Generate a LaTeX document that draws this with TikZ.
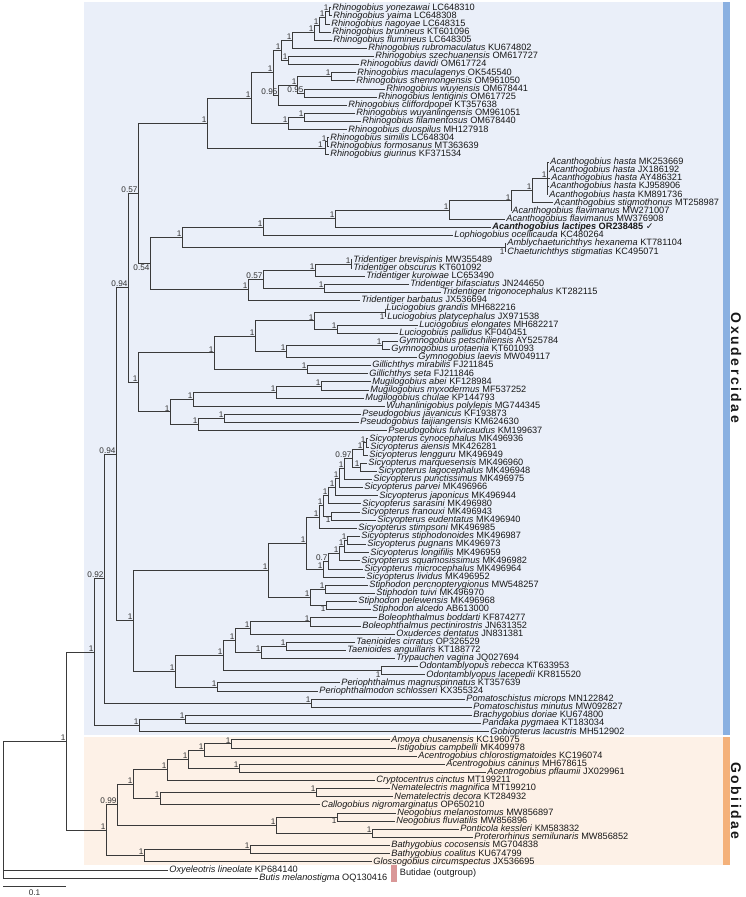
\documentclass[tikz,border=0pt]{standalone}
\usepackage{fontspec}
\setmainfont{Liberation Sans}
\newfontfamily\djv{DejaVu Sans}
\newfontfamily\famfont[LetterSpace=18]{Liberation Sans}
\usetikzlibrary{calc}
\definecolor{oxbg}{HTML}{EAEFF9}
\definecolor{gobbg}{HTML}{FDF1E7}
\definecolor{oxbar}{HTML}{8AB0E1}
\definecolor{gobbar}{HTML}{F4B17A}
\definecolor{butbar}{HTML}{D99797}
\definecolor{brc}{HTML}{3A3A3A}
\tikzset{
 br/.style={draw=brc,line width=0.7pt},
 tipn/.style={anchor=west,inner xsep=1.2pt,inner ysep=0pt,text height=6.6pt,text depth=1.8pt,font=\fontsize{9.2}{10}\selectfont,text=black!90},
 ppa/.style={anchor=south east,inner xsep=0.4pt,inner ysep=0.6pt,font=\fontsize{8.2}{9}\selectfont,text=black!80},
 ppb/.style={anchor=north east,inner xsep=0.4pt,inner ysep=0.6pt,font=\fontsize{8.2}{9}\selectfont,text=black!80},
 ppl/.style={ppa,xshift=-1.6pt},
 famlab/.style={rotate=-90,font=\famfont\fontsize{14}{16}\selectfont\bfseries,text=black!90},
}
\newcommand\tipx[5]{\node[tipn] (#1) at (#3,{7.6+(#2-1)*8.135}) {\textit{#4} #5};}
\newcommand\clade[6][ppa]{%
  \coordinate (tmp) at ($(#4.west)!0.5!(#5.west)$);
  \path let \p1=(tmp) in coordinate (#2) at (#3pt,\y1);
  \draw[br] (#4.west) -- (#2 |- #4.west) -- (#2 |- #5.west) -- (#5.west);
  \node[#1] at (#2) {#6};
}
\begin{document}
\begin{tikzpicture}[x=1pt,y=-1pt]
\useasboundingbox (0,0) rectangle (745,897);
% backgrounds
\fill[oxbg] (84,2) rectangle (723,735);
\fill[gobbg] (84,737) rectangle (723,865);
\fill[oxbar] (723,2) rectangle (730,735);
\fill[gobbar] (723,737) rectangle (730,865);
\node[famlab] (oxu) at (736,368) {Oxudercidae};
\node[famlab] (gob) at (736,801) {Gobiidae};
% tips
\tipx{t1}{1}{331}{Rhinogobius yonezawai}{LC648310}
\tipx{t2}{2}{332}{Rhinogobius yaima}{LC648308}
\tipx{t3}{3}{330}{Rhinogobius nagoyae}{LC648315}
\tipx{t4}{4}{331}{Rhinogobius brunneus}{KT601096}
\tipx{t5}{5}{332}{Rhinogobius flumineus}{LC648305}
\tipx{t6}{6}{367}{Rhinogobius rubromaculatus}{KU674802}
\tipx{t7}{7}{374}{Rhinogobius szechuanensis}{OM617727}
\tipx{t8}{8}{359}{Rhinogobius davidi}{OM617724}
\tipx{t9}{9}{356}{Rhinogobius maculagenys}{OK545540}
\tipx{t10}{10}{355}{Rhinogobius shennongensis}{OM961050}
\tipx{t11}{11}{385}{Rhinogobius wuyiensis}{OM678441}
\tipx{t12}{12}{377}{Rhinogobius lentiginis}{OM617725}
\tipx{t13}{13}{347}{Rhinogobius cliffordpopei}{KT357638}
\tipx{t14}{14}{355}{Rhinogobius wuyanlingensis}{OM961051}
\tipx{t15}{15}{361}{Rhinogobius filamentosus}{OM678440}
\tipx{t16}{16}{347}{Rhinogobius duospilus}{MH127918}
\tipx{t17}{17}{329}{Rhinogobius similis}{LC648304}
\tipx{t18}{18}{329}{Rhinogobius formosanus}{MT363639}
\tipx{t19}{19}{329}{Rhinogobius giurinus}{KF371534}
\tipx{t20}{20}{549}{Acanthogobius hasta}{MK253669}
\tipx{t21}{21}{548}{Acanthogobius hasta}{JX186192}
\tipx{t22}{22}{550}{Acanthogobius hasta}{AY486321}
\tipx{t23}{23}{549}{Acanthogobius hasta}{KJ958906}
\tipx{t24}{24}{548}{Acanthogobius hasta}{KM891736}
\tipx{t25}{25}{553}{Acanthogobius stigmothonus}{MT258987}
\tipx{t26}{26}{511}{Acanthogobius flavimanus}{MW271007}
\tipx{t27}{27}{505}{Acanthogobius flavimanus}{MW376908}
\node[tipn] (t28) at (491,{7.6+27*8.135}) {\bfseries\textit{Acanthogobius lactipes} OR238485 {\djv\bfseries ✓}};
\tipx{t29}{29}{453}{Lophiogobius ocellicauda}{KC480264}
\tipx{t30}{30}{506}{Amblychaeturichthys hexanema}{KT781104}
\tipx{t31}{31}{506}{Chaeturichthys stigmatias}{KC495071}
\tipx{t32}{32}{352}{Tridentiger brevispinis}{MW355489}
\tipx{t33}{33}{352}{Tridentiger obscurus}{KT601092}
\tipx{t34}{34}{365}{Tridentiger kuroiwae}{LC653490}
\tipx{t35}{35}{409}{Tridentiger bifasciatus}{JN244650}
\tipx{t36}{36}{441}{Tridentiger trigonocephalus}{KT282115}
\tipx{t37}{37}{360}{Tridentiger barbatus}{JX536694}
\tipx{t38}{38}{385}{Luciogobius grandis}{MH682216}
\tipx{t39}{39}{386}{Luciogobius platycephalus}{JX971538}
\tipx{t40}{40}{418}{Luciogobius elongates}{MH682217}
\tipx{t41}{41}{398}{Luciogobius pallidus}{KF040451}
\tipx{t42}{42}{398}{Gymnogobius petschiliensis}{AY525784}
\tipx{t43}{43}{390}{Gymnogobius urotaenia}{KT601093}
\tipx{t44}{44}{417}{Gymnogobius laevis}{MW049117}
\tipx{t45}{45}{371}{Gillichthys mirabilis}{FJ211845}
\tipx{t46}{46}{368}{Gillichthys seta}{FJ211846}
\tipx{t47}{47}{371}{Mugilogobius abei}{KF128984}
\tipx{t48}{48}{369}{Mugilogobius myxodermus}{MF537252}
\tipx{t49}{49}{364}{Mugilogobius chulae}{KP144793}
\tipx{t50}{50}{385}{Wuhanlinigobius polylepis}{MG744345}
\tipx{t51}{51}{361}{Pseudogobius javanicus}{KF193873}
\tipx{t52}{52}{359}{Pseudogobius taijiangensis}{KM624630}
\tipx{t53}{53}{387}{Pseudogobius fulvicaudus}{KM199637}
\tipx{t54}{54}{368}{Sicyopterus cynocephalus}{MK496936}
\tipx{t55}{55}{369}{Sicyopterus aiensis}{MK426281}
\tipx{t56}{56}{368}{Sicyopterus lengguru}{MK496949}
\tipx{t57}{57}{367}{Sicyopterus marquesensis}{MK496960}
\tipx{t58}{58}{377}{Sicyopterus lagocephalus}{MK496948}
\tipx{t59}{59}{372}{Sicyopterus punctissimus}{MK496975}
\tipx{t60}{60}{363}{Sicyopterus parvei}{MK496966}
\tipx{t61}{61}{378}{Sicyopterus japonicus}{MK496944}
\tipx{t62}{62}{361}{Sicyopterus sarasini}{MK496980}
\tipx{t63}{63}{360}{Sicyopterus franouxi}{MK496943}
\tipx{t64}{64}{376}{Sicyopterus eudentatus}{MK496940}
\tipx{t65}{65}{357}{Sicyopterus stimpsoni}{MK496985}
\tipx{t66}{66}{360}{Sicyopterus stiphodonoides}{MK496987}
\tipx{t67}{67}{366}{Sicyopterus pugnans}{MK496973}
\tipx{t68}{68}{369}{Sicyopterus longifilis}{MK496959}
\tipx{t69}{69}{360}{Sicyopterus squamosissimus}{MK496982}
\tipx{t70}{70}{363}{Sicyopterus microcephalus}{MK496964}
\tipx{t71}{71}{365}{Sicyopterus lividus}{MK496952}
\tipx{t72}{72}{368}{Stiphodon percnopterygionus}{MW548257}
\tipx{t73}{73}{375}{Stiphodon tuivi}{MK496970}
\tipx{t74}{74}{357}{Stiphodon pelewensis}{MK496968}
\tipx{t75}{75}{371}{Stiphodon alcedo}{AB613000}
\tipx{t76}{76}{377}{Boleophthalmus boddarti}{KF874277}
\tipx{t77}{77}{361}{Boleophthalmus pectinirostris}{JN631352}
\tipx{t78}{78}{395}{Oxuderces dentatus}{JN831381}
\tipx{t79}{79}{355}{Taenioides cirratus}{OP326529}
\tipx{t80}{80}{346}{Taenioides anguillaris}{KT188772}
\tipx{t81}{81}{395}{Trypauchen vagina}{JQ027694}
\tipx{t82}{82}{418}{Odontamblyopus rebecca}{KT633953}
\tipx{t83}{83}{425}{Odontamblyopus lacepedii}{KR815520}
\tipx{t84}{84}{340}{Periophthalmus magnuspinnatus}{KT357639}
\tipx{t85}{85}{318}{Periophthalmodon schlosseri}{KX355324}
\tipx{t86}{86}{465}{Pomatoschistus microps}{MN122842}
\tipx{t87}{87}{472}{Pomatoschistus minutus}{MW092827}
\tipx{t88}{88}{472}{Brachygobius doriae}{KU674800}
\tipx{t89}{89}{481}{Pandaka pygmaea}{KT183034}
\tipx{t90}{90}{489}{Gobiopterus lacustris}{MH512902}
\tipx{t91}{91}{390}{Amoya chusanensis}{KC196075}
\tipx{t92}{92}{396}{Istigobius campbelli}{MK409978}
\tipx{t93}{93}{417}{Acentrogobius chlorostigmatoides}{KC196074}
\tipx{t94}{94}{445}{Acentrogobius caninus}{MH678615}
\tipx{t95}{95}{486}{Acentrogobius pflaumii}{JX029961}
\tipx{t96}{96}{375}{Cryptocentrus cinctus}{MT199211}
\tipx{t97}{97}{390}{Nematelectris magnifica}{MT199210}
\tipx{t98}{98}{393}{Nematelectris decora}{KT284932}
\tipx{t99}{99}{320}{Callogobius nigromarginatus}{OP650210}
\tipx{t100}{100}{396}{Neogobius melanostomus}{MW856897}
\tipx{t101}{101}{395}{Neogobius fluviatilis}{MW856896}
\tipx{t102}{102}{459}{Ponticola kessleri}{KM583832}
\tipx{t103}{103}{473}{Proterorhinus semilunaris}{MW856852}
\tipx{t104}{104}{390}{Bathygobius cocosensis}{MG704838}
\tipx{t105}{105}{390}{Bathygobius coalitus}{KU674799}
\tipx{t106}{106}{372}{Glossogobius circumspectus}{JX536695}
\tipx{t107}{107}{168}{Oxyeleotris lineolate}{KP684140}
\tipx{t108}{108}{258}{Butis melanostigma}{OQ130416}
% Rhinogobius
\clade{R1}{329}{t1}{t2}{1}
\clade{R2}{325}{R1}{t3}{1}
\clade{R3}{319}{R2}{t4}{1}
\clade{R4}{314}{R3}{t5}{1}
\clade{R5}{292}{R4}{t6}{1}
\clade{R6}{288}{t7}{t8}{1}
\clade{R7}{281}{R5}{R6}{1}
\clade{R8}{331}{t9}{t10}{1}
\clade{R9}{304}{t11}{t12}{0.95}
\clade{R10}{297}{R8}{R9}{1}
\clade{R11}{278}{R10}{t13}{0.95}
\clade{R12}{273}{R7}{R11}{1}
\clade{R13}{304}{t14}{t15}{1}
\clade{R14}{288}{R13}{t16}{1}
\clade{R15}{251}{R12}{R14}{1}
\clade{R16}{327}{t17}{t18}{1}
\clade[ppl]{R17}{325}{R16}{t19}{1}
\clade{R18}{207}{R15}{R17}{1}
% Acanthogobius
\coordinate (tmp) at ($(t20.west)!0.5!(t24.west)$);
\path let \p1=(tmp) in coordinate (A0) at (547pt,\y1);
\draw[br] (A0 |- t20.west) -- (A0 |- t24.west);
\foreach \t in {t20,t21,t22,t23,t24} \draw[br] (A0 |- \t.west) -- (\t.west);
\node[ppa] at (A0) {1};
\clade{A1}{532}{A0}{t25}{1}
\clade{A2}{511}{A1}{t26}{1}
\clade{A3}{449}{A2}{t27}{1}
\clade{A4}{335}{A3}{t28}{1}
\clade{A5}{263}{A4}{t29}{1}
\clade[ppb]{A6}{505}{t30}{t31}{1}
\clade{AL}{182}{A5}{A6}{1}
% Tridentiger
\clade{T1}{351}{t32}{t33}{1}
\clade{T2}{315}{T1}{t34}{1}
\clade{T3}{324}{t35}{t36}{1}
\clade{T4}{263}{T2}{T3}{0.57}
\clade{T5}{248}{T4}{t37}{1}
\clade[ppb]{N054}{150}{AL}{T5}{0.54}
\clade{N057}{138}{R18}{N054}{0.57}
% Luciogobius etc
\clade[ppb]{L1}{385}{t38}{t39}{1}
\clade{L2}{337}{t40}{t41}{1}
\clade{L3}{314}{L1}{L2}{1}
\clade{G1}{382}{t42}{t43}{1}
\clade{G2}{286}{G1}{t44}{1}
\clade{LG2}{255}{L3}{G2}{1}
\clade{Gi}{307}{t45}{t46}{1}
\clade{LGG}{214}{LG2}{Gi}{1}
\clade{M1}{321}{t47}{t48}{1}
\clade{M2}{276}{M1}{t49}{1}
\clade{MW}{193}{M2}{t50}{1}
\clade{P1}{224}{t51}{t52}{1}
\clade{PS}{198}{P1}{t53}{1}
\clade{MWPS}{170}{MW}{PS}{1}
\clade{LG}{138}{LGG}{MWPS}{1}
\clade{N094a}{128}{N057}{LG}{0.94}
% Sicyopterus
\clade{S1}{366}{t54}{t55}{1}
\clade{S2}{363}{S1}{t56}{1}
\clade{S3}{360}{t57}{t58}{1}
\clade{S4}{352}{S2}{S3}{0.97}
\clade{S5}{344}{S4}{t59}{1}
\clade{S6}{339}{S5}{t60}{1}
\clade{S7}{335}{S6}{t61}{1}
\clade{S8}{328}{S7}{t62}{1}
\clade[ppb]{S9}{331}{t63}{t64}{1}
\clade{S10}{323}{S8}{S9}{1}
\clade{S11}{319}{S10}{t65}{1}
\clade{S12}{347}{t66}{t67}{1}
\clade{S13}{344}{S12}{t68}{1}
\clade{S14}{339}{S13}{t69}{1}
\clade{S15}{328}{S14}{t70}{0.7}
\clade{S16}{323}{S15}{t71}{1}
\clade{S17}{306}{S11}{S16}{1}
\clade{St1}{325}{t72}{t73}{1}
\clade[ppb]{St2}{326}{t74}{t75}{1}
\clade{St3}{310}{St1}{St2}{1}
\clade{SS}{268}{S17}{St3}{1}
\clade{Bo}{310}{t76}{t77}{1}
\clade{Bo2}{250}{Bo}{t78}{1}
\clade{Ta}{286}{t79}{t80}{1}
\clade{Ta2}{261}{Ta}{t81}{1}
\clade{BT}{235}{Bo2}{Ta2}{1}
\clade[ppb]{Od}{381}{t82}{t83}{1}
\clade{BTO}{223}{BT}{Od}{1}
\clade{Pe}{217}{t84}{t85}{1}
\clade{BTOP}{175}{BTO}{Pe}{1}
\clade{MS}{133}{SS}{BTOP}{1}
\clade{N094b}{116}{N094a}{MS}{0.94}
\clade{Po}{311}{t86}{t87}{1}
\clade{N092}{104}{N094b}{Po}{0.92}
\clade{BP}{185}{t88}{t89}{1}
\clade{BPG}{139}{BP}{t90}{1}
\clade{NOX}{94}{N092}{BPG}{1}
% Gobiidae
\clade{AI1}{231}{t91}{t92}{1}
\clade{AI2}{204}{AI1}{t93}{1}
\clade{Ac}{239}{t94}{t95}{1}
\clade{AI3}{188}{AI2}{Ac}{1}
\clade{AI4}{167}{AI3}{t96}{1}
\clade{Ne}{316}{t97}{t98}{1}
\clade{NC}{160}{Ne}{t99}{1}
\clade{N1x}{133}{AI4}{NC}{1}
\clade[ppb]{Ng}{337}{t100}{t101}{1}
\clade{PP}{372}{t102}{t103}{1}
\clade{NG}{276}{Ng}{PP}{1}
\clade{N099}{117}{N1x}{NG}{0.99}
\clade{Ba}{250}{t104}{t105}{1}
\clade{BaG}{144}{Ba}{t106}{1}
\clade{GB}{106}{N099}{BaG}{1}
\clade{G}{66}{NOX}{GB}{1}
% root
\path let \p1=(G) in coordinate (rt) at (3pt,\y1);
\draw[br] (G) -- (rt) -- (rt |- t108.west) -- (t108.west);
\draw[br] (rt |- t107.west) -- (t107.west);
% outgroup marker
\fill[butbar] (391,865) rectangle (397,882);
\node[tipn] (butl) at (398.5,873.5) {Butidae (outgroup)};
% scale bar
\coordinate (sb1) at (3,886);
\coordinate (sb2) at (66,886);
\draw[br] (sb1) -- (sb2);
\node[font=\fontsize{8.2}{9}\selectfont,text=black!80] (sbl) at (34.5,892.5) {0.1};
\end{tikzpicture}
\end{document}
